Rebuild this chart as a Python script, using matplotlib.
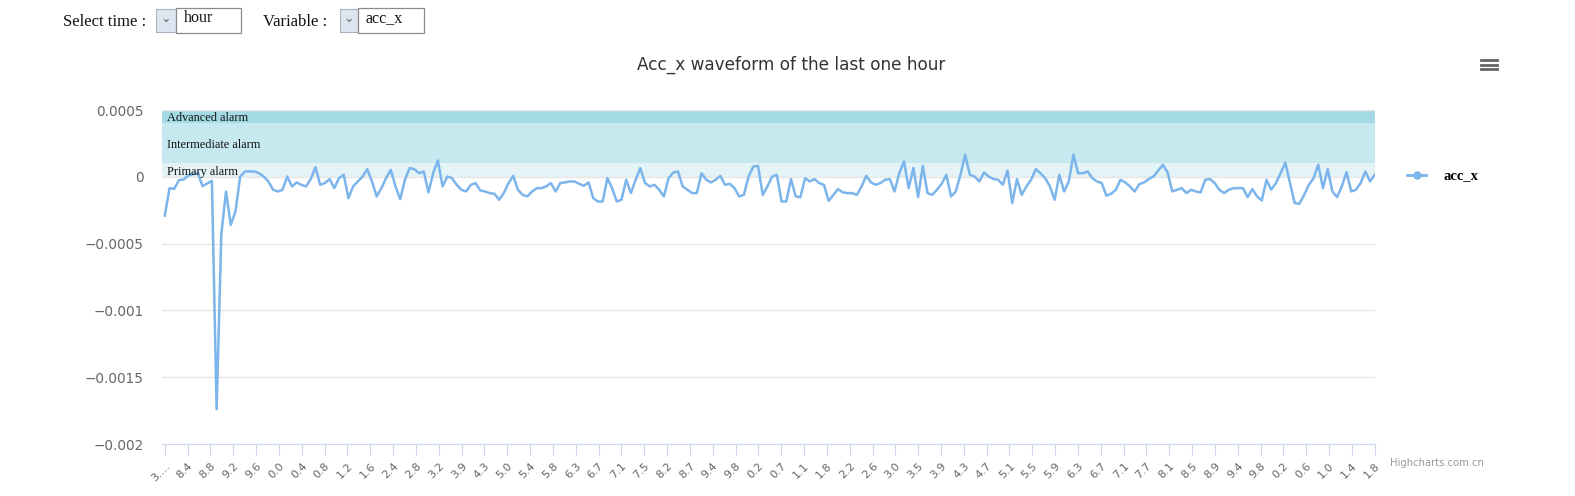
import numpy as np
import matplotlib
matplotlib.use('Agg')
import matplotlib.pyplot as plt
from matplotlib.patches import Rectangle
from matplotlib.lines import Line2D

# acc_x readings, in units of 1e-4
ACC_X_E4 = [
    -2.9, -0.85, -0.9, -0.25, -0.2, 0.1, 0.2, 0.3, -0.7, -0.5, -0.3, -17.4, -4.3, -1.1, -3.6, -2.6, 0.0, 0.4,
    0.40, 0.40, 0.27, 0.02, -0.35, -0.97, -1.10, -0.97, 0.02, -0.72, -0.42, -0.60, -0.72, -0.17, 0.72, -0.60,
    -0.47, -0.17, -0.85, -0.10, 0.15, -1.60, -0.72, -0.35, 0.02, 0.57, -0.35, -1.47, -0.85, -0.10, 0.52, -0.72,
    -1.67, -0.22, 0.65, 0.57, 0.27, 0.40, -1.17, 0.27, 1.22, -0.72, 0.02, -0.10, -0.60, -0.97, -1.10, -0.60, -0.47,
    -1.02, -1.10, -1.22, -1.27, -1.72, -1.22, -0.47, 0.07, -0.97, -1.35, -1.47, -1.10, -0.85, -0.85, -0.72, -0.47,
    -1.10, -0.47, -0.42, -0.35, -0.35, -0.52, -0.67, -0.42, -1.60, -1.85, -1.85, -0.10, -0.85, -1.85, -1.72, -0.22,
    -1.22, -0.22, 0.65, -0.47, -0.72, -0.60, -0.97, -1.47, -0.10, 0.32, 0.40, -0.72, -0.97, -1.22, -1.22, 0.27,
    -0.22, -0.42, -0.22, 0.07, -0.60, -0.52, -0.85, -1.47, -1.35, 0.02, 0.77, 0.82, -1.35, -0.72, 0.02, 0.15,
    -1.85, -1.85,
    -0.17, -1.47, -1.52, -0.10, -0.35, -0.17, -0.47, -0.60, -1.80, -1.35, -0.92, -1.17, -1.22, -1.22, -1.35, -0.72,
    0.07, -0.42, -0.60, -0.47, -0.22, -0.17, -1.10, 0.27, 1.15, -0.85, 0.65, -1.52, 0.82, -1.22, -1.35, -0.97,
    -0.52, 0.15, -1.47, -1.10, 0.15, 1.65, 0.15, 0.02, -0.35, 0.32, 0.02, -0.17, -0.22, -0.60, 0.47, -1.97,
    -0.17, -1.35, -0.72, -0.22, 0.57, 0.27, -0.10, -0.72, -1.72, 0.15, -1.10, -0.35, 1.65, 0.27, 0.27,
    0.40, -0.10, -0.35, -0.47, -1.42, -1.27, -0.97, -0.22, -0.42, -0.72, -1.10, -0.55, -0.42, -0.17, 0.02, 0.47,
    0.90, 0.32, -1.10, -0.97, -0.85, -1.22, -0.97, -1.10, -1.17, -0.22, -0.17, -0.47, -0.97, -1.22, -0.97, -0.85,
    -0.85, -0.85, -1.52, -0.92, -1.47, -1.77, -0.22, -0.97, -0.47, 0.27, 1.07, -0.47, -1.97, -2.02, -1.35, -0.60,
    -0.10, 0.90, -0.85, 0.57, -1.10, -1.52, -0.72, 0.35, -1.10, -0.97, -0.47, 0.40, -0.35, 0.15,
]
acc_x = np.array(ACC_X_E4) * 1e-4

X_LABELS = ['3.…', '8.4', '8.8', '9.2', '9.6', '0.0', '0.4', '0.8', '1.2', '1.6', '2.4', '2.8', '3.2', '3.9',
            '4.3', '5.0', '5.4', '5.8', '6.3', '6.7', '7.1', '7.5', '8.2', '8.7', '9.4', '9.8', '0.2', '0.7',
            '1.1', '1.8', '2.2', '2.6', '3.0', '3.5', '3.9', '4.3', '4.7', '5.1', '5.5', '5.9', '6.3', '6.7',
            '7.1', '7.7', '8.1', '8.5', '8.9', '9.4', '9.8', '0.2', '0.6', '1.0', '1.4', '1.8']
Y_TICKS = [0.0005, 0, -0.0005, -0.001, -0.0015, -0.002]
Y_LABELS = ['0.0005', '0', '−0.0005', '−0.001', '−0.0015', '−0.002']

# alarm bands: (name, low, high, colour)
BANDS = [('Advanced alarm', 0.0004, 0.0005, '#a3dae4'),
         ('Intermediate alarm', 0.0001, 0.0004, '#c6e9ef'),
         ('Primary alarm', 0.0, 0.0001, '#e4f3f6')]

W, H = 1575, 496
SERIF = 'Liberation Serif'


def fx(px):
    return px / W


def fy(py):
    return 1 - py / H


fig = plt.figure(figsize=(W / 100, H / 100), dpi=100)
ax = fig.add_axes([fx(162), fy(444), (1375 - 162) / W, (444 - 110) / H])

for name, lo, hi, col in BANDS:
    ax.axhspan(lo, hi, color=col, lw=0, zorder=0)
    ax.text(0.004, (lo + hi) / 2 - 0.000012, name, transform=ax.get_yaxis_transform(),
            family=SERIF, fontsize=8.8, color='#111111', va='center', ha='left', zorder=3)

n = len(acc_x)
x = np.arange(n)
ax.plot(x, acc_x, color='#7cb5ec', lw=1.8, zorder=2)

ax.set_ylim(-0.002, 0.0005)
ax.set_xlim(-0.6, n - 1 + 0.05)
ax.set_yticks(Y_TICKS)
ax.set_yticklabels(Y_LABELS)
ax.grid(axis='y', color='#e6e6e6', lw=1, zorder=1)
ax.set_axisbelow(True)
for side in ['top', 'right', 'left']:
    ax.spines[side].set_visible(False)
ax.spines['bottom'].set_color('#ccd6eb')
ax.tick_params(axis='y', length=0, pad=13, labelsize=9.8, labelcolor='#666666')

ax.set_xticks(np.linspace(0, n - 1, len(X_LABELS)))
ax.set_xticklabels(X_LABELS, rotation=45, ha='right', rotation_mode='anchor')
ax.tick_params(axis='x', length=8, color='#ccd6eb', labelsize=8, labelcolor='#666666', pad=4)

fig.text(fx(791), fy(65), 'Acc_x waveform of the last one hour', ha='center', va='center',
         fontsize=12.2, color='#333333')

# legend
proxy = Line2D([], [], color='#7cb5ec', lw=2, marker='o', markersize=5)
fig.legend([proxy], ['acc_x'], loc='center left', bbox_to_anchor=(fx(1394), fy(176)),
           frameon=False, handlelength=1.3, handletextpad=1.2,
           prop={'family': SERIF, 'weight': 'bold', 'size': 10.5})

# export menu icon
for py in (60, 64.5, 69):
    fig.add_artist(Line2D([fx(1481), fx(1497)], [fy(py), fy(py)], color='#666666', lw=2))

fig.text(fx(1390), fy(463), 'Highcharts.com.cn', ha='left', va='center', fontsize=7.2, color='#999999')

# selector controls on top
fig.text(fx(63), fy(22), 'Select time :', family=SERIF, fontsize=12, va='center', color='#111111')
fig.text(fx(263), fy(22), 'Variable :', family=SERIF, fontsize=12, va='center', color='#111111')
for x0, x1, x2, label in [(156, 176, 241, 'hour'), (340, 358, 424, 'acc_x')]:
    fig.add_artist(Rectangle((fx(x0), fy(32)), (x1 - x0) / W, 23 / H, transform=fig.transFigure,
                             facecolor='#dde6f0', edgecolor='#a9b3c2', lw=0.8))
    fig.add_artist(Rectangle((fx(x1), fy(33)), (x2 - x1) / W, 25 / H, transform=fig.transFigure,
                             facecolor='white', edgecolor='#8a8a8a', lw=0.9))
    fig.text(fx((x0 + x1) / 2), fy(18), '⌄', ha='center', va='center', fontsize=9, color='#666666')
    fig.text(fx(x1 + 8), fy(18), label, family=SERIF, fontsize=11.5, va='center', color='#111111')

fig.savefig('out.png', dpi=100)
